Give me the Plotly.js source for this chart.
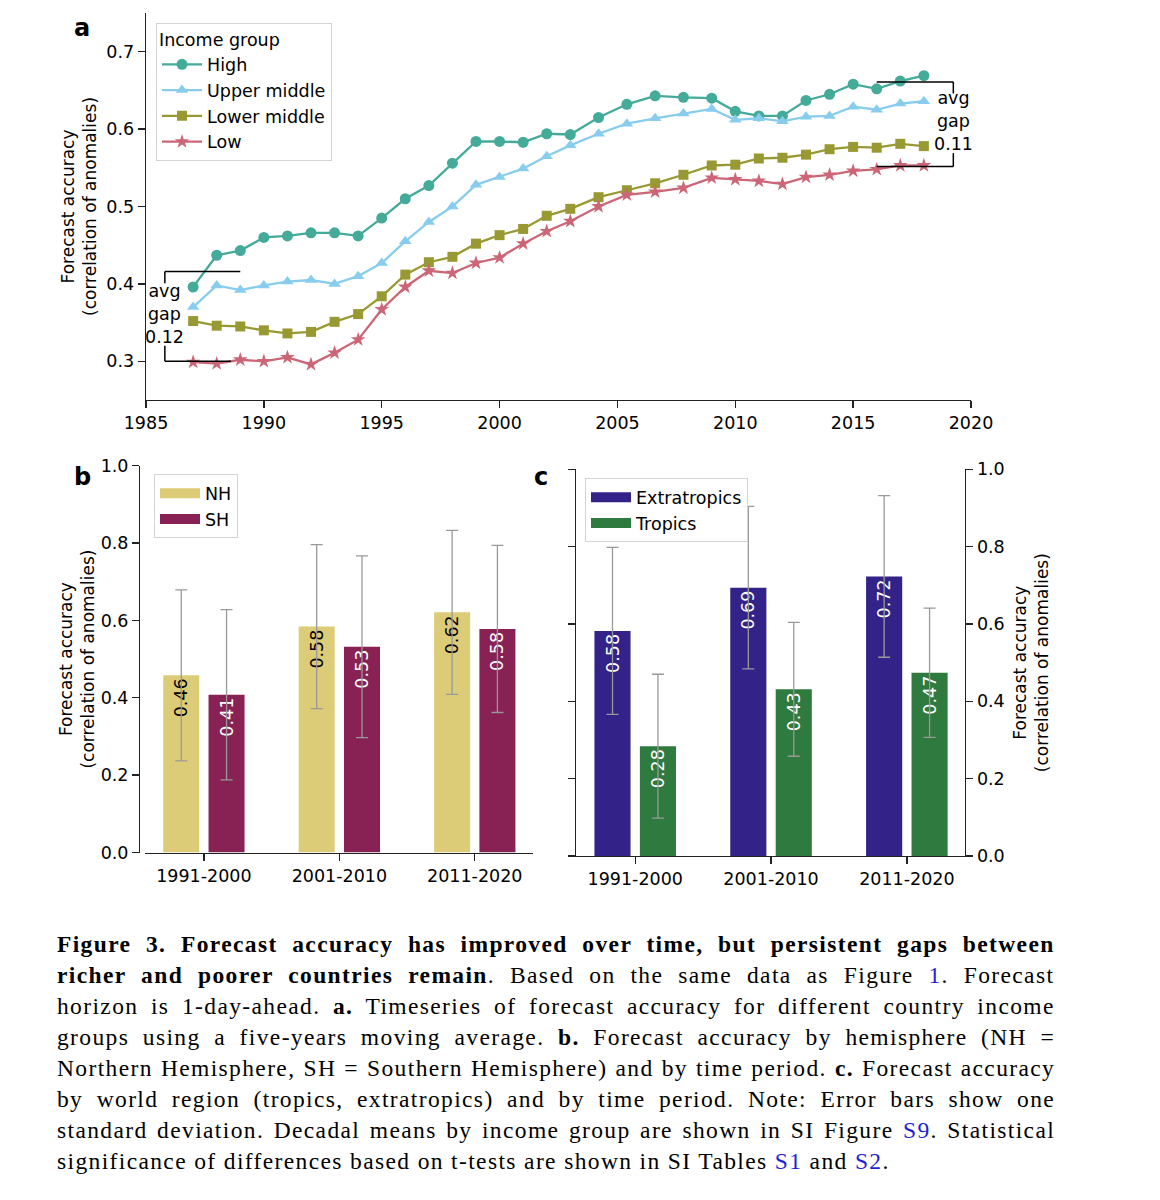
<!DOCTYPE html>
<html>
<head>
<meta charset="utf-8">
<script src="https://cdn.plot.ly/plotly-3.0.1.min.js"></script>
<style>
  html, body { margin: 0; padding: 0; background: #fff; }
  #chart { width: 1160px; height: 1200px; }
</style>
</head>
<body>
<div id="chart"></div>
<script>
// ---------------- Panel a data (five-year moving average) ----------------
// x positions (markers between 2003 and 2009 are ~1.2 years apart)
const years = [1987, 1988, 1989, 1990, 1991, 1992, 1993, 1994, 1995, 1996, 1997, 1998, 1999, 2000, 2001, 2002, 2003,
               2004.2, 2005.4, 2006.6, 2007.8, 2009.0,
               2010, 2011, 2012, 2013, 2014, 2015, 2016, 2017, 2018];
const highIncome  = [0.396, 0.437, 0.443, 0.460, 0.462, 0.466, 0.466, 0.462, 0.485, 0.510, 0.527, 0.556, 0.584, 0.584, 0.583, 0.594, 0.593,
                     0.615, 0.632, 0.643, 0.641, 0.640,
                     0.623, 0.617, 0.617, 0.637, 0.645, 0.658, 0.652, 0.662, 0.669];
const upperMiddle = [0.370, 0.398, 0.392, 0.398, 0.403, 0.405, 0.400, 0.410, 0.427, 0.455, 0.480, 0.500, 0.528, 0.538, 0.549, 0.565, 0.579,
                     0.594, 0.607, 0.614, 0.620, 0.626,
                     0.612, 0.614, 0.610, 0.616, 0.617, 0.629, 0.625, 0.633, 0.636];
const lowerMiddle = [0.352, 0.346, 0.345, 0.340, 0.336, 0.338, 0.351, 0.361, 0.384, 0.412, 0.428, 0.435, 0.452, 0.463, 0.471, 0.488, 0.497,
                     0.512, 0.521, 0.530, 0.541, 0.553,
                     0.554, 0.562, 0.563, 0.567, 0.574, 0.577, 0.576, 0.581, 0.578];
const lowIncome   = [0.299, 0.297, 0.302, 0.300, 0.305, 0.296, 0.311, 0.328, 0.367, 0.396, 0.417, 0.414, 0.427, 0.434, 0.452, 0.468, 0.481,
                     0.500, 0.515, 0.519, 0.524, 0.537,
                     0.535, 0.533, 0.529, 0.538, 0.541, 0.546, 0.548, 0.553, 0.553];
const yearTicks = [1985, 1990, 1995, 2000, 2005, 2010, 2015, 2020];
const accTicksA = [0.3, 0.4, 0.5, 0.6, 0.7];

// "avg gap" brackets
const gapStart = {x0: 1985.8, x1: 1989.0, x1b: 1988.6, top: 0.416, topEnd: 0.401, botStart: 0.320, bottom: 0.300, textY: 0.361, label: 'avg<br>gap<br>0.12'};
const gapEnd   = {x0: 2019.25, x1: 2016.0, x1b: 2016.0, top: 0.661, topEnd: 0.646, botStart: 0.569, bottom: 0.5516, textY: 0.610, label: 'avg<br>gap<br>0.11'};

// ---------------- Panels b and c data ----------------
const periods = ['1991-2000', '2001-2010', '2011-2020'];
const nhMean = [0.458, 0.584, 0.621];
const nhSd   = [0.221, 0.212, 0.212];
const shMean = [0.408, 0.532, 0.578];
const shSd   = [0.220, 0.235, 0.216];
const extraMean = [0.582, 0.694, 0.723];
const extraSd   = [0.216, 0.210, 0.209];
const tropMean  = [0.284, 0.431, 0.474];
const tropSd    = [0.186, 0.173, 0.167];
const accTicksB = [0, 0.2, 0.4, 0.6, 0.8, 1.0];

// ---------------- Caption ----------------
const captionLines = [
  [['Figure 3. Forecast accuracy has improved over time, but persistent gaps between', 'b']],
  [['richer and poorer countries remain', 'b'], ['. Based on the same data as Figure ', ''], ['1', 'l'], ['. Forecast', '']],
  [['horizon is 1-day-ahead. ', ''], ['a.', 'b'], [' Timeseries of forecast accuracy for different country income', '']],
  [['groups using a five-years moving average. ', ''], ['b.', 'b'], [' Forecast accuracy by hemisphere (NH =', '']],
  [['Northern Hemisphere, SH = Southern Hemisphere) and by time period. ', ''], ['c.', 'b'], [' Forecast accuracy', '']],
  [['by world region (tropics, extratropics) and by time period. Note: Error bars show one', '']],
  [['standard deviation. Decadal means by income group are shown in SI Figure ', ''], ['S9', 'l'], ['. Statistical', '']],
  [['significance of differences based on t-tests are shown in SI Tables ', ''], ['S1', 'l'], [' and ', ''], ['S2', 'l'], ['.', '']]
];

// ---------------- Layout helpers ----------------
const W = 1160, H = 1200;
const px = x => x / W;
const py = y => 1 - y / H;

const C = {
  high: '#44AA99', upper: '#88CCEE', lower: '#999933', low: '#CC6677',
  nh: '#DDCC77', sh: '#882255', extra: '#332288', trop: '#2f7a3f',
  axis: '#222222', err: '#999999', link: '#1f1fd6'
};
const SANS = 'DejaVu Sans';
const SERIF = 'Liberation Serif';
const FS = 17.5;

const axisBase = {
  showline: true, linecolor: C.axis, linewidth: 1.4,
  ticks: 'outside', ticklen: 7, tickwidth: 1.4, tickcolor: C.axis,
  showgrid: false, zeroline: false,
  tickfont: {family: SANS, size: FS, color: '#000'}
};
function yTitle(standoff) {
  return {
    text: 'Forecast accuracy<br>(correlation of anomalies)',
    font: {family: SANS, size: 17, color: '#000'},
    standoff: standoff
  };
}

// ---------------- Traces ----------------
function lineTrace(y, name, color, symbol, size) {
  return {
    type: 'scatter', mode: 'lines+markers', x: years, y: y, name: name,
    xaxis: 'x', yaxis: 'y', legend: 'legend', legendgroup: name,
    line: {color: color, width: 2.3},
    marker: {color: color, symbol: symbol, size: size},
    cliponaxis: false, hoverinfo: 'skip'
  };
}
function barTrace(xa, ya, y, sd, name, color, txtColor) {
  return {
    type: 'bar', x: periods, y: y, name: name, xaxis: xa, yaxis: ya, showlegend: false,
    marker: {color: color},
    error_y: {type: 'data', array: sd, visible: true, color: C.err, thickness: 1.3, width: 6},
    texttemplate: '%{y:.2f}', textposition: 'inside', insidetextanchor: 'end', textangle: -90,
    insidetextfont: {family: SANS, size: FS, color: txtColor},
    constraintext: 'none', cliponaxis: false, hoverinfo: 'skip'
  };
}
// legend-only entries drawn as wide patches (matplotlib style)
function patchKey(xa, ya, leg, name, color) {
  return {
    type: 'scatter', mode: 'lines', x: [null], y: [null], name: name, xaxis: xa, yaxis: ya,
    legend: leg, legendgroup: name, line: {color: color, width: 12}, hoverinfo: 'skip'
  };
}

const traces = [
  lineTrace(highIncome, 'High', C.high, 'circle', 11),
  lineTrace(upperMiddle, 'Upper middle', C.upper, 'triangle-up', 11),
  lineTrace(lowerMiddle, 'Lower middle', C.lower, 'square', 10),
  lineTrace(lowIncome, 'Low', C.low, 'star', 11),
  barTrace('x2', 'y2', nhMean, nhSd, 'NH', C.nh, '#000'),
  barTrace('x2', 'y2', shMean, shSd, 'SH', C.sh, '#fff'),
  barTrace('x3', 'y3', extraMean, extraSd, 'Extratropics', C.extra, '#fff'),
  barTrace('x3', 'y3', tropMean, tropSd, 'Tropics', C.trop, '#fff'),
  patchKey('x2', 'y2', 'legend2', 'NH', C.nh),
  patchKey('x2', 'y2', 'legend2', 'SH', C.sh),
  patchKey('x3', 'y3', 'legend3', 'Extratropics', C.extra),
  patchKey('x3', 'y3', 'legend3', 'Tropics', C.trop)
];

// ---------------- Shapes (gap brackets) ----------------
const shapes = [];
function bracket(g) {
  const ln = {color: '#000', width: 1.5};
  shapes.push({type: 'line', xref: 'x', yref: 'y', x0: g.x0, x1: g.x1, y0: g.top, y1: g.top, line: ln});
  shapes.push({type: 'line', xref: 'x', yref: 'y', x0: g.x0, x1: g.x0, y0: g.top, y1: g.topEnd, line: ln});
  shapes.push({type: 'line', xref: 'x', yref: 'y', x0: g.x0, x1: g.x0, y0: g.botStart, y1: g.bottom, line: ln});
  shapes.push({type: 'line', xref: 'x', yref: 'y', x0: g.x0, x1: g.x1b, y0: g.bottom, y1: g.bottom, line: ln});
}
bracket(gapStart);
bracket(gapEnd);

// ---------------- Annotations ----------------
const annotations = [
  {xref: 'x', yref: 'y', x: gapStart.x0, y: gapStart.textY, text: gapStart.label, showarrow: false,
   xanchor: 'center', yanchor: 'middle', font: {family: SANS, size: FS, color: '#000'}},
  {xref: 'x', yref: 'y', x: gapEnd.x0, y: gapEnd.textY, text: gapEnd.label, showarrow: false,
   xanchor: 'center', yanchor: 'middle', font: {family: SANS, size: FS, color: '#000'}},
  {xref: 'paper', yref: 'paper', x: px(82), y: py(28), text: '<b>a</b>', showarrow: false,
   xanchor: 'center', yanchor: 'middle', font: {family: SANS, size: 24, color: '#000'}},
  {xref: 'paper', yref: 'paper', x: px(82), y: py(477), text: '<b>b</b>', showarrow: false,
   xanchor: 'center', yanchor: 'middle', font: {family: SANS, size: 24, color: '#000'}},
  {xref: 'paper', yref: 'paper', x: px(541), y: py(477), text: '<b>c</b>', showarrow: false,
   xanchor: 'center', yanchor: 'middle', font: {family: SANS, size: 24, color: '#000'}}
];

// Caption: justified lines (word/letter spacing computed from measured text widths)
(function addCaption() {
  const fs = 23.5;
  const cv = document.createElement('canvas');
  const ctx = cv.getContext('2d');
  function measure(seg) {
    ctx.font = (seg[1] === 'b' ? 'bold ' : '') + fs + 'px "' + SERIF + '"';
    return ctx.measureText(seg[0]).width;
  }
  const left = 55, fullW = 998, lastW = 833;
  const lineY = [944, 975, 1006, 1037, 1068, 1099, 1130, 1161];
  const last = captionLines[captionLines.length - 1];
  let wLast = 0, nLast = 0;
  last.forEach(s => { wLast += measure(s); nLast += s[0].length; });
  const ls = Math.max(0, (lastW - wLast) / nLast);
  captionLines.forEach((line, i) => {
    let w = 0, nc = 0, ns = 0;
    line.forEach(s => { w += measure(s); nc += s[0].length; ns += (s[0].match(/ /g) || []).length; });
    const isLast = i === captionLines.length - 1;
    const ws = isLast ? 0 : (fullW - w - ls * nc) / Math.max(1, ns);
    const html = line.map(s => {
      let st = 'letter-spacing:' + ls.toFixed(2) + 'px;word-spacing:' + ws.toFixed(2) + 'px';
      if (s[1] === 'b') st += ';font-weight:bold';
      if (s[1] === 'l') st += ';color:' + C.link;
      return '<span style="' + st + '">' + s[0] + '</span>';
    }).join('');
    annotations.push({
      xref: 'paper', yref: 'paper', x: px(left), y: py(lineY[i]), text: html, showarrow: false,
      xanchor: 'left', yanchor: 'middle', align: 'left',
      font: {family: SERIF, size: fs, color: '#000'}
    });
  });
})();

// ---------------- Layout ----------------
const legendBase = {
  xanchor: 'left', yanchor: 'top', bgcolor: 'rgba(255,255,255,0.85)',
  bordercolor: '#d4d4d4', borderwidth: 1,
  font: {family: SANS, size: FS, color: '#000'},
  traceorder: 'grouped', tracegroupgap: 0, itemwidth: 40
};

const layout = {
  width: W, height: H,
  margin: {l: 0, r: 0, t: 0, b: 0},
  paper_bgcolor: '#fff', plot_bgcolor: 'rgba(0,0,0,0)',
  font: {family: SANS, size: FS, color: '#000'},
  showlegend: true,
  barmode: 'group', bargap: 0.331, bargroupgap: 0.205,
  xaxis: Object.assign({}, axisBase, {
    domain: [px(146), px(971)], anchor: 'y', range: [1985, 2020], tickvals: yearTicks
  }),
  yaxis: Object.assign({}, axisBase, {
    domain: [py(400), py(13)], anchor: 'x', range: [0.25, 0.75], tickvals: accTicksA, tickformat: '.1f',
    title: yTitle(5)
  }),
  xaxis2: Object.assign({}, axisBase, {
    domain: [px(145), px(533)], anchor: 'y2', type: 'category', range: [-0.435, 2.43]
  }),
  yaxis2: Object.assign({}, axisBase, {
    domain: [py(852.5), py(465.7)], anchor: 'free', position: px(139), range: [0, 1],
    tickvals: accTicksB, tickformat: '.1f', title: yTitle(0)
  }),
  xaxis3: Object.assign({}, axisBase, {
    domain: [px(576), px(965)], anchor: 'y3', type: 'category', range: [-0.436, 2.428]
  }),
  yaxis3: Object.assign({}, axisBase, {
    domain: [py(856), py(469.3)], anchor: 'x3', side: 'right', mirror: 'ticks', range: [0, 1],
    tickvals: accTicksB, tickformat: '.1f', title: yTitle(10)
  }),
  legend: Object.assign({}, legendBase, {
    x: px(156), y: py(22.7),
    title: {text: 'Income group', font: {family: SANS, size: FS, color: '#000'}}
  }),
  legend2: Object.assign({}, legendBase, {x: px(154), y: py(474.3)}),
  legend3: Object.assign({}, legendBase, {x: px(585), y: py(478.3)}),
  shapes: shapes,
  annotations: annotations
};

Plotly.newPlot('chart', traces, layout, {staticPlot: true, displayModeBar: false});
</script>
</body>
</html>
